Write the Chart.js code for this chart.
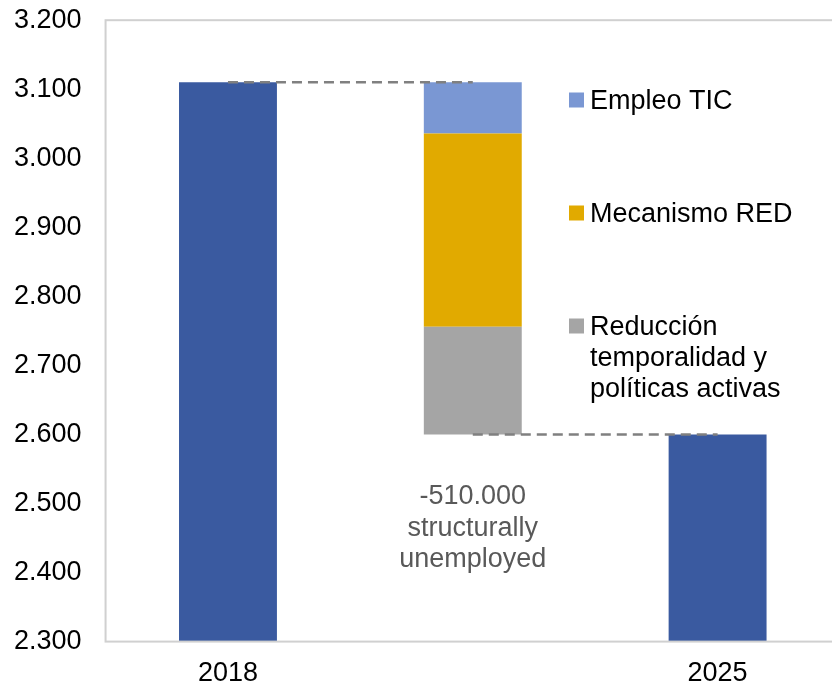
<!DOCTYPE html>
<html>
<head>
<meta charset="utf-8">
<script src="https://cdn.jsdelivr.net/npm/chart.js@4.4.1/dist/chart.umd.min.js"></script>
<style>
    html, body { margin: 0; padding: 0; background: #fff; overflow: hidden; }
    #wrap { width: 845px; height: 708px; margin-top: -20px; }
</style>
</head>
<body>
<div id="wrap"><canvas id="chart"></canvas></div>
<script>
// Values in thousands of people
const categories = ['2018', '', '2025'];
const totals = [3110, null, 2600];
const stepLabels = ['Reducción temporalidad y políticas activas', 'Mecanismo RED', 'Empleo TIC'];
const stepLegendLines = [['Reducción', 'temporalidad y', 'políticas activas'], ['Mecanismo RED'], ['Empleo TIC']];
const stepValues = [156, 280, 74];
const stepColors = ['#a5a5a5', '#e1aa00', '#7a97d3'];
const noteLines = ['-510.000', 'structurally', 'unemployed'];

const FONT = '"Liberation Sans", Arial, sans-serif';

// floating pieces of the middle bar, stacked up from the 2025 level
const stepDatasets = [];
let level = totals[2];
stepValues.forEach((v, i) => {
    const data = [null, [level, level + v], null];
    level += v;
    stepDatasets.push({
        label: stepLabels[i],
        data: data,
        backgroundColor: stepColors[i],
        barPercentage: 1,
        categoryPercentage: 0.4
    });
});

// canvas is shifted up by 20px, so page y = canvas y - 20
const SHIFT = 20;

const extras = {
    id: 'extras',
    afterDraw(chart) {
        const ctx = chart.ctx;
        const x = chart.scales.x, y = chart.scales.y;
        const area = chart.chartArea;
        ctx.save();

        // plot frame
        ctx.strokeStyle = '#d0d0d0';
        ctx.lineWidth = 2;
        ctx.strokeRect(area.left, area.top, area.right - area.left, area.bottom - area.top);

        // connector lines
        ctx.strokeStyle = '#808080';
        ctx.lineWidth = 2.5;
        ctx.setLineDash([10, 6]);
        let yTop = y.getPixelForValue(totals[0]);
        ctx.beginPath();
        ctx.moveTo(x.getPixelForValue(0), yTop);
        ctx.lineTo(x.getPixelForValue(1), yTop);
        ctx.stroke();
        let yBot = y.getPixelForValue(totals[2]);
        ctx.beginPath();
        ctx.moveTo(x.getPixelForValue(1), yBot);
        ctx.lineTo(x.getPixelForValue(2), yBot);
        ctx.stroke();
        ctx.setLineDash([]);

        // legend
        ctx.font = '27px ' + FONT;
        ctx.textBaseline = 'middle';
        ctx.textAlign = 'left';
        const legendY = [326, 213, 100];
        stepLegendLines.forEach((lines, i) => {
            ctx.fillStyle = stepColors[i];
            ctx.fillRect(569, legendY[i] + SHIFT - 7.5, 15, 15);
            ctx.fillStyle = '#000';
            lines.forEach((t, j) => ctx.fillText(t, 590, legendY[i] + SHIFT + 2 + j * 31));
        });

        // note under the middle bar
        ctx.fillStyle = '#595959';
        ctx.textAlign = 'center';
        const cx = x.getPixelForValue(1);
        noteLines.forEach((t, j) => ctx.fillText(t, cx, 497 + SHIFT + j * 31.5));
        ctx.restore();
    }
};

new Chart(document.getElementById('chart'), {
    type: 'bar',
    data: {
        labels: categories,
        datasets: [{
            label: 'Total',
            data: totals,
            backgroundColor: '#3a5aa0',
            barPercentage: 1,
            categoryPercentage: 0.4
        }].concat(stepDatasets)
    },
    options: {
        responsive: true,
        maintainAspectRatio: false,
        animation: false,
        layout: { padding: { left: -10, top: 0, right: 5, bottom: -18 } },
        plugins: { legend: { display: false }, tooltip: { enabled: false } },
        scales: {
            x: {
                stacked: true,
                grid: { display: false, drawTicks: false },
                border: { display: false },
                ticks: { color: '#000', padding: 16, font: { family: FONT, size: 27 } }
            },
            y: {
                stacked: false,
                min: 2300,
                max: 3200,
                grid: { display: false, drawTicks: false },
                border: { display: false },
                ticks: {
                    stepSize: 100,
                    color: '#000',
                    padding: 24,
                    font: { family: FONT, size: 27 },
                    callback: v => (v / 1000).toFixed(3)
                }
            }
        }
    },
    plugins: [extras]
});
</script>
</body>
</html>
